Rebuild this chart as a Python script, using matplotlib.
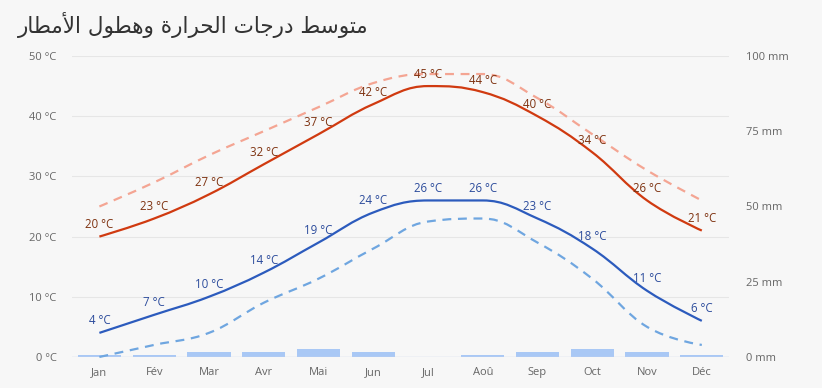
import numpy as np
import matplotlib.pyplot as plt
from matplotlib.path import Path
from matplotlib.patches import PathPatch

months = ['Jan', 'Fév', 'Mar', 'Avr', 'Mai', 'Jun', 'Jul', 'Aoû', 'Sep', 'Oct', 'Nov', 'Déc']
temp_max = [20, 23, 27, 32, 37, 42, 45, 44, 40, 34, 26, 21]
temp_min = [4, 7, 10, 14, 19, 24, 26, 26, 23, 18, 11, 6]
record_max = [25, 29, 33.5, 37.5, 41.5, 45.5, 47, 47, 43, 37, 31, 26]
record_min = [0, 2, 4, 9, 13, 18, 22.5, 23, 19, 13, 5, 2]
precip = [0.7, 0.7, 1.6, 1.6, 2.6, 1.6, 0, 0.7, 1.6, 2.6, 1.6, 0.7]
title = 'متوسط درجات الحرارة وهطول الأمطار'

# --- minimal arabic shaping (matplotlib does no shaping / RTL) ---
FORMS = {
    'ا': ('\uFE8D', '\uFE8E'), 'أ': ('\uFE83', '\uFE84'),
    'د': ('\uFEA9', '\uFEAA'), 'ر': ('\uFEAD', '\uFEAE'),
    'و': ('\uFEED', '\uFEEE'), 'ة': ('\uFE93', '\uFE94'),
    'ت': ('\uFE95', '\uFE96', '\uFE97', '\uFE98'),
    'ج': ('\uFE9D', '\uFE9E', '\uFE9F', '\uFEA0'),
    'ح': ('\uFEA1', '\uFEA2', '\uFEA3', '\uFEA4'),
    'س': ('\uFEB1', '\uFEB2', '\uFEB3', '\uFEB4'),
    'ط': ('\uFEC1', '\uFEC2', '\uFEC3', '\uFEC4'),
    'ل': ('\uFEDD', '\uFEDE', '\uFEDF', '\uFEE0'),
    'م': ('\uFEE1', '\uFEE2', '\uFEE3', '\uFEE4'),
    'ه': ('\uFEE9', '\uFEEA', '\uFEEB', '\uFEEC'),
}
LAM_ALEF = {'ا': ('\uFEFB', '\uFEFC'), 'أ': ('\uFEF7', '\uFEF8')}


def shape(s):
    out = []
    i = 0
    while i < len(s):
        c = s[i]
        if c not in FORMS:
            out.append(c)
            i += 1
            continue
        prev = s[i - 1] if i > 0 else ' '
        joins_prev = prev in FORMS and len(FORMS[prev]) == 4
        if c == 'ل' and i + 1 < len(s) and s[i + 1] in LAM_ALEF:
            out.append(LAM_ALEF[s[i + 1]][1 if joins_prev else 0])
            i += 2
            continue
        nxt = s[i + 1] if i + 1 < len(s) else ' '
        f = FORMS[c]
        joins_next = len(f) == 4 and nxt in FORMS
        if joins_prev and joins_next:
            out.append(f[3])
        elif joins_prev:
            out.append(f[1])
        elif joins_next:
            out.append(f[2])
        else:
            out.append(f[0])
        i += 1
    return ''.join(out)[::-1]


def spline_path(x, y, smoothing=1.5):
    # highcharts-like spline through the points, as cubic bezier
    x = np.asarray(x, float)
    y = np.asarray(y, float)
    n = len(x)
    left = [(x[i], y[i]) for i in range(n)]
    right = [(x[i], y[i]) for i in range(n)]
    d = smoothing + 1
    for i in range(1, n - 1):
        lx = (smoothing * x[i] + x[i - 1]) / d
        ly = (smoothing * y[i] + y[i - 1]) / d
        rx = (smoothing * x[i] + x[i + 1]) / d
        ry = (smoothing * y[i] + y[i + 1]) / d
        corr = (ry - ly) * (rx - x[i]) / (rx - lx) + y[i] - ry
        ly += corr
        ry += corr
        if ly > y[i - 1] and ly > y[i]:
            ly = max(y[i - 1], y[i]); ry = 2 * y[i] - ly
        elif ly < y[i - 1] and ly < y[i]:
            ly = min(y[i - 1], y[i]); ry = 2 * y[i] - ly
        if ry > y[i + 1] and ry > y[i]:
            ry = max(y[i + 1], y[i]); ly = 2 * y[i] - ry
        elif ry < y[i + 1] and ry < y[i]:
            ry = min(y[i + 1], y[i]); ly = 2 * y[i] - ry
        left[i] = (lx, ly)
        right[i] = (rx, ry)
    verts = [(x[0], y[0])]
    codes = [Path.MOVETO]
    for i in range(1, n):
        verts += [right[i - 1], left[i], (x[i], y[i])]
        codes += [Path.CURVE4] * 3
    return Path(verts, codes)


bg = '#f7f7f7'
fig = plt.figure(figsize=(8.22, 3.88), dpi=100, facecolor=bg)
ax2 = fig.add_axes([0.0876, 0.080, 0.7995, 0.7757])
ax = ax2.twinx()
ax.set_zorder(ax2.get_zorder() + 1)
ax.patch.set_visible(False)
ax2.set_facecolor(bg)

# left axis lives on the right-hand twin -> swap sides
ax.yaxis.tick_left()
ax2.yaxis.tick_right()

xs = np.arange(len(months))
ax2.bar(xs, precip, width=0.79, color='#a9c8f5', zorder=2)
ax2.set_ylim(0, 100)
ax2.set_yticks([0, 25, 50, 75, 100])
ax2.set_yticklabels([f'{v} mm' for v in [0, 25, 50, 75, 100]])

ax.set_xlim(-0.5, len(months) - 0.5)
ax.set_ylim(0, 50)
ax.set_yticks(range(0, 51, 10))
ax.set_yticklabels([f'{v} °C' for v in range(0, 51, 10)])
for v in range(10, 51, 10):
    ax2.axhline(v * 2, color='#e6e6e6', lw=0.8, zorder=1)
ax2.axhline(0, color='#ccd6eb', lw=1, zorder=3)

series = [
    (record_max, '#f4a593', (0, (4, 3))),
    (record_min, '#6fa6e0', (0, (4, 3))),
    (temp_max, '#d03a10', '-'),
    (temp_min, '#2c5bbd', '-'),
]
for vals, col, ls in series:
    p = spline_path(xs, vals)
    ax.add_patch(PathPatch(p, fill=False, edgecolor=col, lw=1.6, linestyle=ls,
                           capstyle='butt', clip_on=False))

for vals, col in [(temp_max, '#7e3210'), (temp_min, '#2c4c9c')]:
    for xi, v in zip(xs, vals):
        ax.annotate(f'{v} °C', (xi, v), xytext=(0, 4), textcoords='offset points',
                    ha='center', va='bottom', fontsize=8.3, color=col,
                    family='Open Sans', fontweight='medium')

ax.set_xticks(xs)
ax2.set_xticks(xs)
ax2.set_xticklabels(months)
ax.tick_params(axis='x', length=0, labelbottom=False)
for a in (ax, ax2):
    for s in a.spines.values():
        s.set_visible(False)
    a.tick_params(length=0, labelsize=8, labelcolor='#666666')
ax.tick_params(axis='y', pad=11)
ax2.tick_params(axis='y', pad=12)
ax2.tick_params(axis='x', pad=7)
for lab in ax.get_yticklabels() + ax2.get_yticklabels() + ax2.get_xticklabels():
    lab.set_family('Open Sans')

fig.text(0.022, 0.935, shape(title), fontsize=15.5, color='#333333',
         family='DejaVu Sans', ha='left', va='center')

fig.savefig('out.png', dpi=100, facecolor=bg)
